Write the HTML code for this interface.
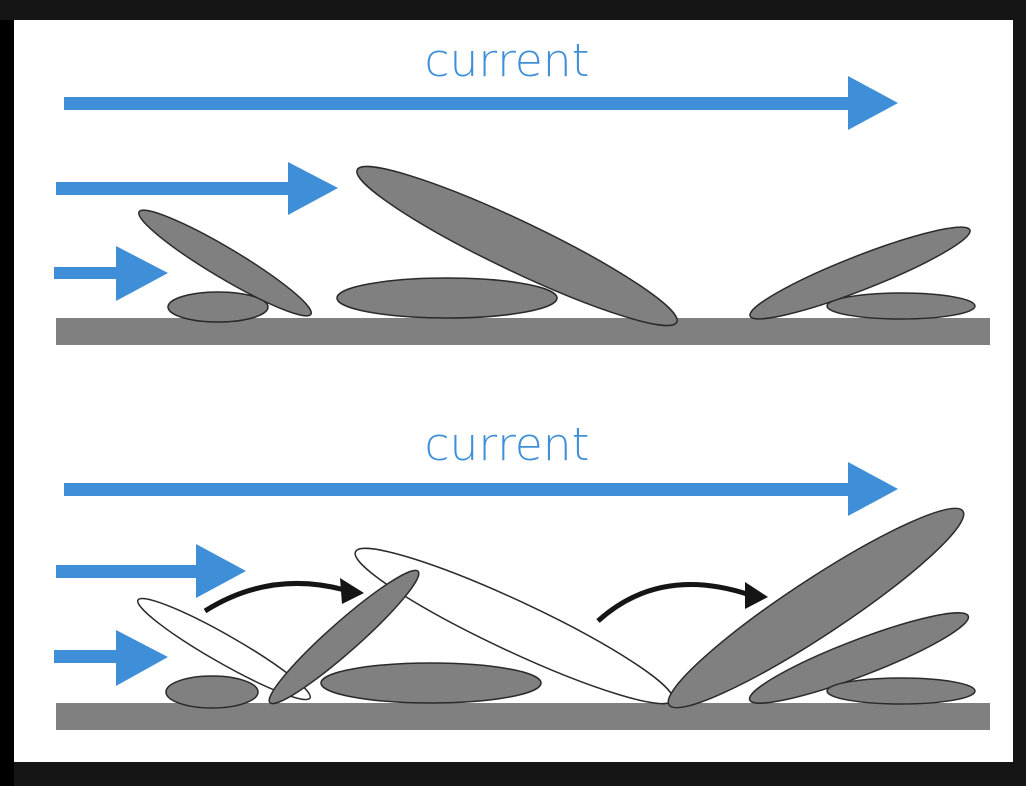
<!DOCTYPE html>
<html><head><style>
html,body{margin:0;padding:0;background:#151515;}
svg{display:block;}
</style></head><body>
<svg width="1026" height="786" xmlns="http://www.w3.org/2000/svg">
<rect x="0" y="0" width="1026" height="786" fill="#151515"/>
<rect x="0" y="20" width="14" height="766" fill="#000"/>
<rect x="14" y="20" width="999" height="742" fill="#fff"/>
<g fill="#3f8fd8">
<text x="507" y="76" font-family="DejaVu Sans, sans-serif" font-weight="200" font-size="45" text-anchor="middle" textLength="165" lengthAdjust="spacingAndGlyphs">current</text>
<rect x="64" y="97" width="786" height="13"/><polygon points="848,76 898,103 848,130"/>
<rect x="56" y="182" width="234" height="13"/><polygon points="288,162 338,188 288,215"/>
<rect x="54" y="267" width="64" height="12"/><polygon points="116,246 168,273 116,301"/>
<text x="507" y="460" font-family="DejaVu Sans, sans-serif" font-weight="200" font-size="45" text-anchor="middle" textLength="165" lengthAdjust="spacingAndGlyphs">current</text>
<rect x="64" y="483" width="786" height="13"/><polygon points="848,462 898,489 848,516"/>
<rect x="56" y="565" width="142" height="13"/><polygon points="196,544 246,571 196,598"/>
<rect x="54" y="650" width="64" height="13"/><polygon points="116,630 168,657 116,686"/>
</g>
<rect x="56" y="318" width="934" height="27" fill="#808080"/>
<rect x="56" y="703" width="934" height="27" fill="#808080"/>
<g fill="#808080" stroke="#2a2a2a" stroke-width="1.5">
<ellipse cx="218" cy="307" rx="50" ry="15"/>
<ellipse cx="225" cy="263" rx="100" ry="15" transform="rotate(30.8 225 263)"/>
<ellipse cx="447" cy="298" rx="110" ry="20"/>
<ellipse cx="517" cy="246" rx="177" ry="25" transform="rotate(25.5 517 246)"/>
<ellipse cx="901" cy="306" rx="74" ry="13"/>
<ellipse cx="860" cy="273" rx="118" ry="17" transform="rotate(-21.4 860 273)"/>

<ellipse cx="224" cy="649" rx="99" ry="14" transform="rotate(29.7 224 649)" fill="#fff"/>
<ellipse cx="212" cy="692" rx="46" ry="16"/>
<ellipse cx="514" cy="626" rx="175" ry="25" transform="rotate(25.1 514 626)" fill="#fff"/>
<ellipse cx="431" cy="683" rx="110" ry="20"/>
<ellipse cx="344" cy="637" rx="99" ry="15" transform="rotate(-41.5 344 637)"/>
<ellipse cx="816" cy="608" rx="176" ry="28" transform="rotate(-33.4 816 608)"/>
<ellipse cx="859" cy="658" rx="117" ry="18" transform="rotate(-21 859 658)"/>
<ellipse cx="901" cy="691" rx="74" ry="13"/>
</g>
<g fill="none" stroke="#151515" stroke-width="5">
<path d="M205,611 Q270,570 345,590"/>
<path d="M598,621 Q660,565 750,595"/>
</g>
<g fill="#151515">
<polygon points="340,578 364,593 342,604"/>
<polygon points="745,582 768,597 745,609"/>
</g>
</svg>
</body></html>
